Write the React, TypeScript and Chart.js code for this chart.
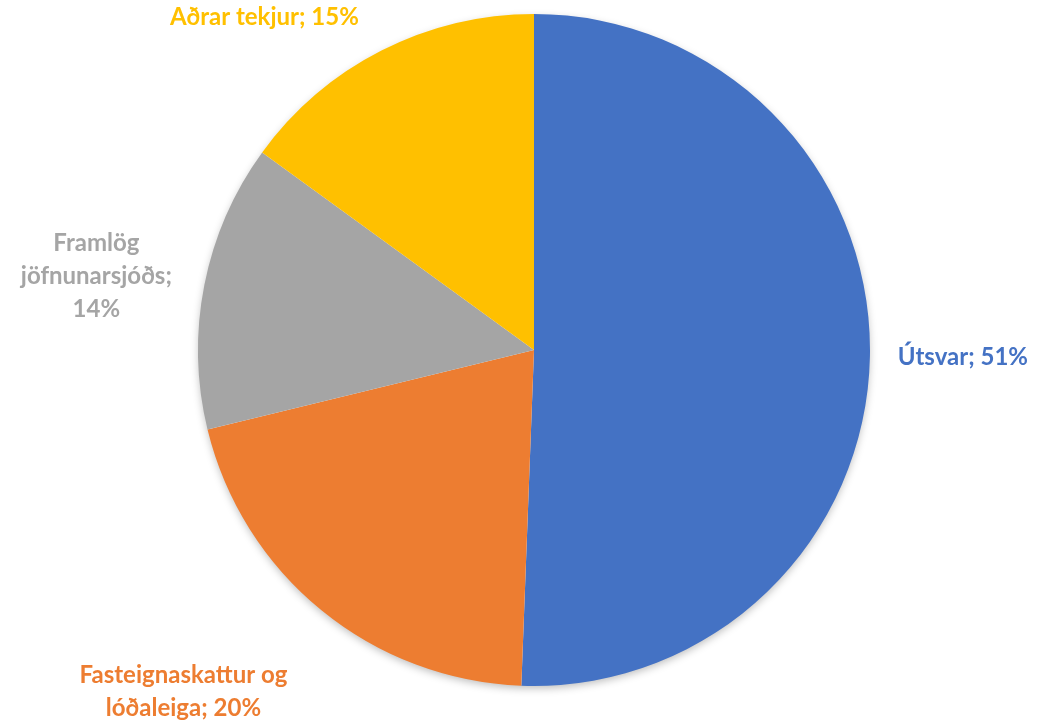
import React, { useEffect, useRef } from "react";
import { Chart, registerables } from "chart.js";

Chart.register(...registerables);

const categories: string[][] = [
  ["Útsvar; 51%"],
  ["Fasteignaskattur og", "lóðaleiga; 20%"],
  ["Framlög", "jöfnunarsjóðs;", "14%"],
  ["Aðrar tekjur; 15%"],
];
const values: number[] = [50.6, 20.6, 13.8, 15.0];
const colors: string[] = ["#4472C4", "#ED7D31", "#A5A5A5", "#FFC000"];
// label placement: extra radial distance and nudge (dx, dy) from the arc edge
const labelExtra: number[] = [0, 0, 0, 0];
const labelNudge: [number, number][] = [
  [93, 1],
  [-138, 82],
  [-108, -9],
  [-117, -33],
];

const FONT = "bold 24px Lato, 'Liberation Sans', sans-serif";
const LINE_H = 33;

const shadowPlugin = {
  id: "pieShadow",
  beforeDatasetsDraw(chart: any) {
    const meta = chart.getDatasetMeta(0);
    const arc = meta.data[0];
    if (!arc) return;
    const { x, y, outerRadius } = arc.getProps(["x", "y", "outerRadius"], true);
    const ctx = chart.ctx;
    ctx.save();
    ctx.shadowColor = "rgba(0,0,0,0.28)";
    ctx.shadowBlur = 9;
    ctx.shadowOffsetY = 3;
    ctx.beginPath();
    ctx.arc(x, y, outerRadius - 1, 0, Math.PI * 2);
    ctx.fillStyle = "#ffffff";
    ctx.fill();
    ctx.restore();
  },
};

const labelPlugin = {
  id: "pieLabels",
  afterDatasetsDraw(chart: any) {
    const meta = chart.getDatasetMeta(0);
    const ctx = chart.ctx;
    ctx.save();
    ctx.font = FONT;
    ctx.textAlign = "center";
    ctx.textBaseline = "middle";
    meta.data.forEach((arc: any, i: number) => {
      const p = arc.getProps(["x", "y", "startAngle", "endAngle", "outerRadius"], true);
      const mid = (p.startAngle + p.endAngle) / 2;
      const r = p.outerRadius + labelExtra[i];
      const ax = p.x + Math.cos(mid) * r + labelNudge[i][0];
      const ay = p.y + Math.sin(mid) * r + labelNudge[i][1];
      const lines = categories[i];
      const top = ay - ((lines.length - 1) * LINE_H) / 2;
      ctx.fillStyle = colors[i];
      lines.forEach((ln, k) => ctx.fillText(ln, ax, top + k * LINE_H));
    });
    ctx.restore();
  },
};

export default function App() {
  const ref = useRef<HTMLCanvasElement | null>(null);
  useEffect(() => {
    if (!ref.current) return;
    const chart = new Chart(ref.current, {
      type: "pie",
      data: {
        labels: categories.map((c) => c.join(" ")),
        datasets: [
          {
            data: values,
            backgroundColor: colors,
            borderWidth: 0,
          },
        ],
      },
      options: {
        responsive: false,
        animation: false,
        layout: { padding: { left: 197, right: 166, top: 14, bottom: 37 } },
        plugins: {
          legend: { display: false },
          tooltip: { enabled: false },
        },
      },
      plugins: [shadowPlugin, labelPlugin],
    });
    return () => chart.destroy();
  }, []);
  return (
    <div style={{ position: "absolute", left: 0, top: 0, width: 1037, height: 723, background: "#fff" }}>
      <canvas ref={ref} width={1037} height={723} style={{ display: "block" }} />
    </div>
  );
}
